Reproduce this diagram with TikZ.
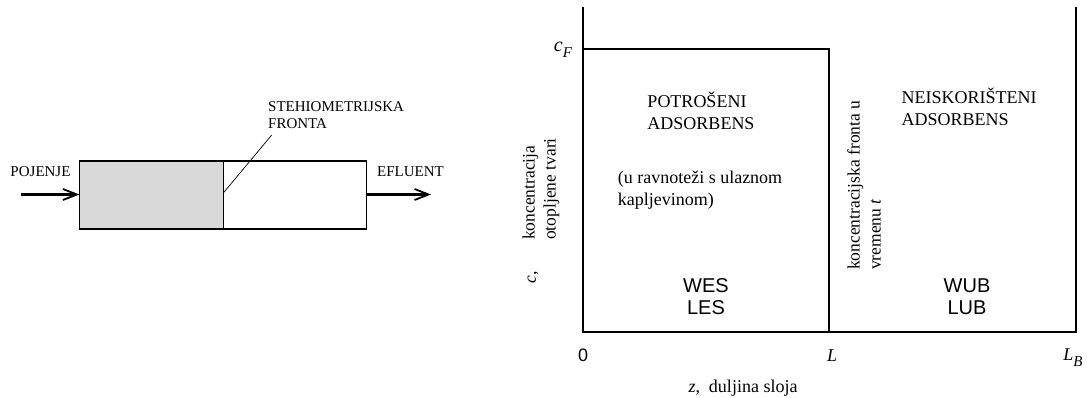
\documentclass[tikz,border=0pt]{standalone}
\usepackage{fontspec}
\setmainfont{Liberation Serif}
\newfontfamily\arialf{Liberation Sans}
\usetikzlibrary{arrows.meta}
\begin{document}
\begin{tikzpicture}[x=1pt,y=-1pt,
  lbl/.style={font=\fontsize{15}{17}\selectfont, inner sep=0pt, align=left},
  rlbl/.style={font=\fontsize{18}{22}\selectfont, inner sep=0pt, align=left},
  vlbl/.style={font=\fontsize{17.5}{21}\selectfont, inner sep=0pt, align=left, rotate=90},
  sublbl/.style={font=\arialf\fontsize{20}{22}\selectfont, inner sep=0pt, align=center},
  axlbl/.style={font=\fontsize{18}{20}\selectfont, inner sep=0pt},
  zone/.style={draw, line width=1.1pt, minimum width=143.4pt, minimum height=68pt, inner sep=0pt},
  axisline/.style={line width=1.8pt},
  flow/.style={line width=2.4pt, -{Straight Barb[length=14pt,width=11pt,line width=1.8pt]}},
  leader/.style={line width=0.7pt}
]
\useasboundingbox (0,0) rectangle (1087,398);

% ---------- left: adsorber bed ----------
\node[zone, fill=gray!30] (spent) at (151.6,195) {};
\node[zone] (unused) at (295,195) {};
\coordinate (feedstart) at (21,194.5);
\coordinate (effend) at (431,194.5);
\draw[flow] (feedstart) -- (spent.west |- feedstart);
\draw[flow] (unused.east |- effend) -- (effend);
\coordinate (frontpt) at (223.3,193);
\coordinate (leadtop) at (271.7,135);
\draw[leader] (frontpt) -- (leadtop);

\node[lbl] (feed) at (40.5,172) {POJENJE};
\node[lbl] (eff) at (410.5,172) {EFLUENT};
\node[lbl, anchor=west] (front) at (268,115) {STEHIOMETRIJSKA\\FRONTA};

% ---------- right: concentration profile ----------
\coordinate (O) at (582.7,331.7);
\coordinate (ytop) at (582.7,7);
\coordinate (cF) at (582.7,49);
\coordinate (Ltop) at (829.3,49);
\coordinate (Lbot) at (829.3,331.7);
\coordinate (LBbot) at (1075.7,331.7);
\coordinate (LBtop) at (1075.7,7);
\draw[axisline] (ytop) -- (O) -- (LBbot) -- (LBtop);
\draw[axisline] (cF) -- (Ltop) -- (Lbot);

\node[font=\fontsize{20}{22}\selectfont, inner sep=0pt, anchor=base] (cFl) at (563,52) {\textit{c}\raisebox{-6pt}{\fontsize{15}{15}\selectfont\textit{F}}};
\node[font=\arialf\fontsize{18}{20}\selectfont, inner sep=0pt, anchor=base] (zero) at (583,361) {0};
\node[axlbl, anchor=base] (Ll) at (832,361) {\textit{L}};
\node[axlbl, anchor=base] (LBl) at (1073,360) {\textit{L}\raisebox{-6pt}{\fontsize{15}{15}\selectfont\textit{B}}};
\node[axlbl, anchor=base] (zl) at (743,392) {\textit{z},\ \ duljina sloja};

\node[vlbl, anchor=center] (cl) at (533,277) {\textit{c},};
\node[vlbl, anchor=west] (cdesc) at (541,240) {koncentracija\\otopljene tvari};
\node[vlbl, anchor=west] (frontdesc) at (864,270) {koncentracijska fronta u\\vremenu \textit{t}};

\node[rlbl] (spentl) at (701,111) {POTROŠENI\\ADSORBENS};
\node[rlbl] (eql) at (700,190) {(u ravnoteži s ulaznom\\kapljevinom)};
\node[rlbl] (unusedl) at (969,107) {NEISKORIŠTENI\\ADSORBENS};

\node[sublbl] (wes) at (706,297) {WES\\LES};
\node[sublbl] (wub) at (967,297) {WUB\\LUB};
\end{tikzpicture}
\end{document}
